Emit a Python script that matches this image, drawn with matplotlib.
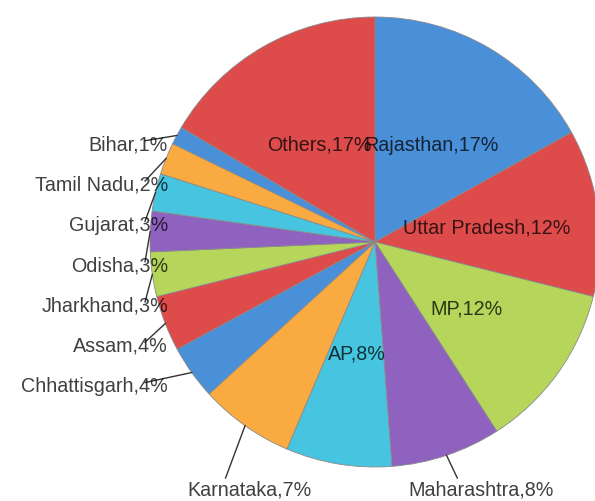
import numpy as np
from matplotlib import pyplot as plt

states = ["Rajasthan", "Uttar Pradesh", "MP", "Maharashtra", "AP", "Karnataka",
          "Chhattisgarh", "Assam", "Jharkhand", "Odisha", "Gujarat", "Tamil Nadu",
          "Bihar", "Others"]
shares = [16.9, 12.0, 12.0, 7.9, 7.6, 6.8, 3.9, 4.0, 3.2, 2.9, 2.7, 2.3, 1.3, 16.5]
pct_labels = ["17%", "12%", "12%", "8%", "8%", "7%", "4%", "4%", "3%", "3%", "3%",
              "2%", "1%", "17%"]
label_inside = [True, True, True, False, True, False, False, False, False, False,
                False, False, False, True]

palette = ["#4a90d9", "#dd4b4b", "#b5d65a", "#8f62bf", "#47c5e0", "#f9aa40"]
colors = [palette[i % len(palette)] for i in range(len(states))]

plt.rcParams['font.family'] = ['Liberation Sans', 'DejaVu Sans']
fs = 14.2

fig = plt.figure(figsize=(5.95, 5.02), dpi=100)
ax = fig.add_axes([0, 0, 1, 1])
ax.pie(shares, radius=1, startangle=90, counterclock=False, colors=colors,
       wedgeprops=dict(edgecolor='#8a8a8a', linewidth=0.6))

# pixel layout: centre at (375, 243), radius 225 px
ax.set_xlim(-375 / 225, 220 / 225)
ax.set_ylim(-259 / 225, 243 / 225)
ax.set_aspect('equal')
ax.axis('off')

total = sum(shares)
cum = np.cumsum([0] + shares[:-1])
mid = 90 - (cum + np.array(shares) / 2) / total * 360  # degrees, math convention
mx = np.cos(np.radians(mid))
my = np.sin(np.radians(mid))

txt_kw = dict(fontsize=fs, color='black', alpha=0.75)

left = []
for i, name in enumerate(states):
    text = f"{name},{pct_labels[i]}"
    if label_inside[i]:
        ax.text(0.5 * mx[i], 0.5 * my[i], text, ha='center', va='center', **txt_kw)
    elif abs(mx[i]) < 0.6 and my[i] < 0:
        # bottom labels
        yend = -236 / 225
        xend = mx[i] * 1.15
        ax.plot([mx[i], xend], [my[i], yend], color='#333333', lw=1)
        ax.text(xend + 24 / 225, yend - 0.05, text, ha='center', va='center', **txt_kw)
    else:
        left.append(i)

# left side labels, evenly stacked from the bottom up
left.sort(key=lambda i: my[i])
gap = 40.3 / 225
y0 = my[left[0]] - 13 / 225
for k, i in enumerate(left):
    y = y0 + k * gap
    ax.plot([mx[i], -1.022], [my[i], y + 3 / 225], color='#333333', lw=1)
    ax.text(-0.92, y, f"{states[i]},{pct_labels[i]}", ha='right', va='center', **txt_kw)

fig.savefig("out.png", dpi=100, facecolor='white')
